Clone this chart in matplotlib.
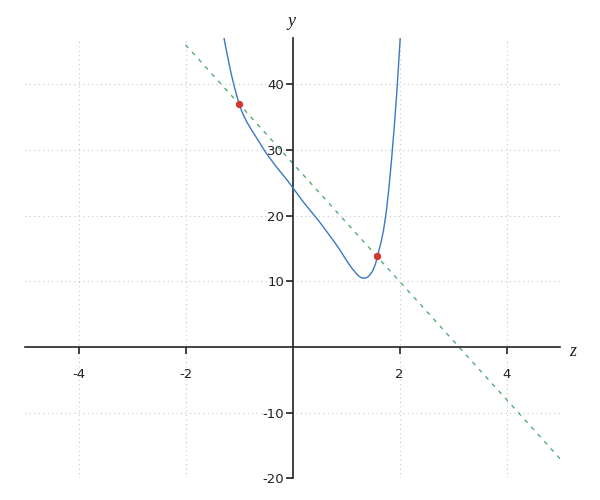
import matplotlib
matplotlib.use("Agg")
import matplotlib.pyplot as plt

plt.rcParams['axes.unicode_minus'] = False

# curve samples
curve_x = [-1.28, -1.24, -1.20, -1.16, -1.12, -1.08, -1.04, -1.00, -0.95, -0.90,
           -0.85, -0.80, -0.70, -0.60, -0.50, -0.40, -0.30, -0.20, -0.10, 0.00,
           0.10, 0.20, 0.30, 0.40, 0.50, 0.60, 0.70, 0.80, 0.90, 1.00,
           1.10, 1.20, 1.27, 1.33, 1.40, 1.45, 1.50, 1.55, 1.60, 1.65,
           1.70, 1.75, 1.80, 1.85, 1.90, 1.95, 2.00, 2.015]
curve_y = [47.0, 45.3, 43.7, 42.1, 40.7, 39.4, 38.2, 37.1, 35.9, 35.0,
           34.2, 33.5, 32.2, 30.9, 29.6, 28.5, 27.4, 26.4, 25.4, 24.3,
           23.2, 22.1, 21.1, 20.1, 19.1, 18.0, 16.9, 15.8, 14.6, 13.3,
           12.1, 11.1, 10.6, 10.45, 10.6, 11.0, 11.6, 12.6, 14.2, 15.8,
           17.7, 20.4, 24.0, 28.4, 33.3, 38.8, 45.2, 47.3]

# dashed secant line end points
line_x = [-2, 5]
line_y = [46, -17]

# highlighted points
pts_x = [-1.0, 1.58]
pts_y = [37.0, 13.8]

xticks = [-4, -2, 2, 4]
yticks = [-20, -10, 10, 20, 30, 40]

fig = plt.figure(figsize=(6, 5), dpi=100)
ax = fig.add_axes([25/600, 1-478.4/500, 535/600, (478.4-38.2)/500])
ax.set_xlim(-5, 5)
ax.set_ylim(-20, 47)

ax.plot(curve_x, curve_y, color='#3a78c3', lw=1.0, zorder=3,
        solid_joinstyle='round')
ax.plot(line_x, line_y, color='#4fae6b', lw=1.0, ls=(0, (3, 4)), zorder=2)
ax.scatter(pts_x, pts_y, s=28, color='#d0392e', zorder=4, linewidths=0)

for s in ['right', 'top']:
    ax.spines[s].set_visible(False)
ax.spines['left'].set_position(('data', 0))
ax.spines['bottom'].set_position(('data', 0))
for s in ['left', 'bottom']:
    ax.spines[s].set_linewidth(1.2)
    ax.spines[s].set_color('#222222')

ax.set_xticks(xticks)
ax.set_yticks(yticks)
ax.tick_params(axis='x', direction='out', length=5, width=1.2, pad=10,
               labelsize=9.5, colors='#222222')
ax.tick_params(axis='y', direction='out', length=5, width=1.2, pad=1,
               labelsize=9.5, colors='#222222')
ax.grid(True, ls=(0, (1, 3)), color='#c8c8c8', lw=0.8)
ax.set_axisbelow(True)

fig.text(573/600, 1-351/500, 'z', fontsize=13, family='Liberation Serif',
         style='italic', ha='center', va='center', color='#222222')
fig.text(292/600, 1-21/500, 'y', fontsize=13, family='Liberation Serif',
         style='italic', ha='center', va='center', color='#222222')

fig.savefig('out.png', dpi=100)
